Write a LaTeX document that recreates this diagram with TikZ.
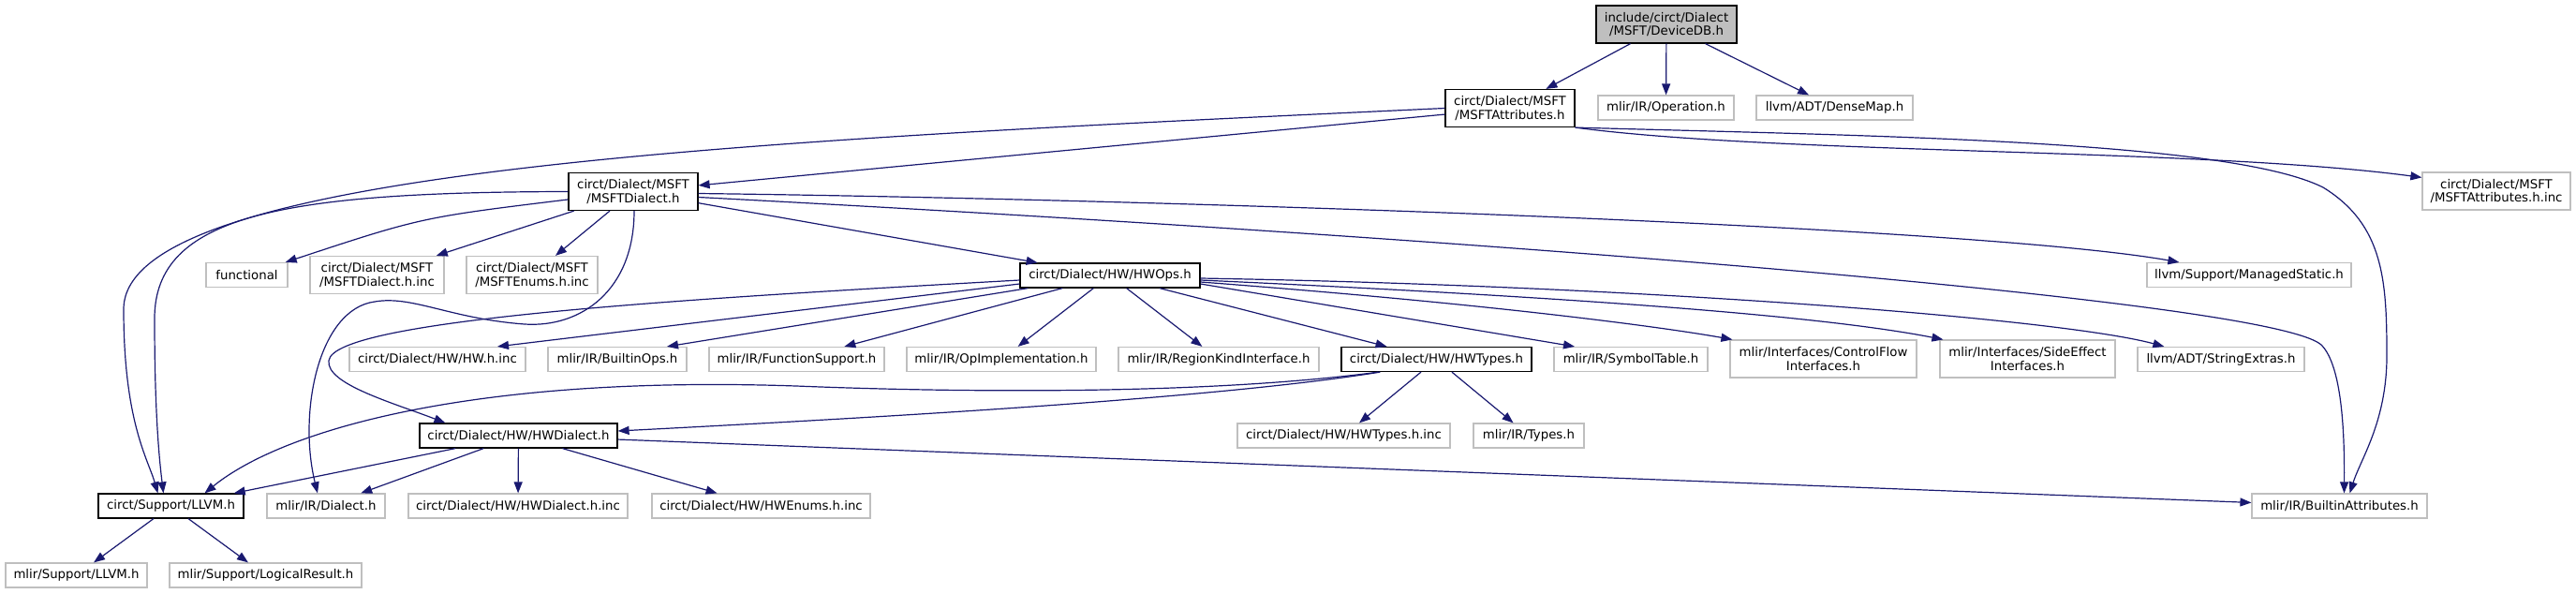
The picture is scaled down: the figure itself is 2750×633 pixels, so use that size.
\documentclass[tikz,border=0pt]{standalone}
\usepackage{fontspec}
\setmainfont{DejaVu Sans}
\usetikzlibrary{arrows.meta, calc}
\definecolor{azulmeia}{HTML}{191970}
\definecolor{cinza}{HTML}{BFBFBF}
\newcommand{\arq}[5]{%
  % #1 = estilo, #2 = nome, #3 = x, #4 = y, #5 = largura
  \node[#1, minimum width=#5] (#2) at (#3,#4)}

\begin{document}
\begin{tikzpicture}[x=1pt, y=-1pt, >={Triangle[length=12pt, width=9pt]},
    file/.style={draw, line width=1.2pt, minimum height=26, inner sep=0pt,
      align=center, font=\fontsize{13.3}{14.3}\selectfont},
    leaf/.style={file, draw=cinza},
    hub/.style={file, draw=black},
    root/.style={file, draw=black, fill=cinza},
    twoline/.style={minimum height=40},
    dep/.style={->, azulmeia, line width=1.2pt}]

    \useasboundingbox (0,0) rectangle (2750,633);

    % arquivos
    \arq{root, twoline}{devdb}{1779}{26}{150} {include/circt/Dialect\\/MSFT/DeviceDB.h};
    \arq{hub, twoline}{msftattr}{1612}{115.5}{138} {circt/Dialect/MSFT\\/MSFTAttributes.h};
    \arq{leaf}{operation}{1778.5}{115}{145} {mlir/IR/Operation.h};
    \arq{leaf}{densemap}{1958.5}{115}{167} {llvm/ADT/DenseMap.h};
    \arq{leaf, twoline}{attrinc}{2665}{204}{158} {circt/Dialect/MSFT\\/MSFTAttributes.h.inc};

    \arq{hub, twoline}{msftdialect}{676}{204.5}{138} {circt/Dialect/MSFT\\/MSFTDialect.h};
    \arq{leaf}{functional}{263.5}{293.5}{87} {functional};
    \arq{leaf, twoline}{dialinc}{402.5}{293.5}{143} {circt/Dialect/MSFT\\/MSFTDialect.h.inc};
    \arq{leaf, twoline}{enumsinc}{568}{293.5}{140} {circt/Dialect/MSFT\\/MSFTEnums.h.inc};
    \arq{leaf}{managed}{2401}{293.5}{218} {llvm/Support/ManagedStatic.h};
    \arq{hub}{hwops}{1185}{294}{192} {circt/Dialect/HW/HWOps.h};

    \arq{leaf}{hwinc}{467}{383.5}{188} {circt/Dialect/HW/HW.h.inc};
    \arq{leaf}{builtinops}{659}{383.5}{148} {mlir/IR/BuiltinOps.h};
    \arq{leaf}{funcsupport}{850.5}{383.5}{187} {mlir/IR/FunctionSupport.h};
    \arq{leaf}{opimpl}{1069}{383.5}{202} {mlir/IR/OpImplementation.h};
    \arq{leaf}{regionkind}{1301}{383.5}{214} {mlir/IR/RegionKindInterface.h};
    \arq{hub}{hwtypes}{1533.5}{383.5}{203} {circt/Dialect/HW/HWTypes.h};
    \arq{leaf}{symboltable}{1741}{383.5}{164} {mlir/IR/SymbolTable.h};
    \arq{leaf, twoline}{controlflow}{1946.5}{383}{199} {mlir/Interfaces/ControlFlow\\Interfaces.h};
    \arq{leaf, twoline}{sideeffect}{2164.5}{383}{187} {mlir/Interfaces/SideEffect\\Interfaces.h};
    \arq{leaf}{stringextras}{2371}{383.5}{178} {llvm/ADT/StringExtras.h};

    \arq{hub}{hwdialect}{553.5}{465}{211} {circt/Dialect/HW/HWDialect.h};
    \arq{leaf}{hwtypesinc}{1434.5}{465}{227} {circt/Dialect/HW/HWTypes.h.inc};
    \arq{leaf}{types}{1632}{465}{118} {mlir/IR/Types.h};

    \arq{hub}{llvm}{182.5}{540}{155} {circt/Support/LLVM.h};
    \arq{leaf}{dialect}{348}{540}{126} {mlir/IR/Dialect.h};
    \arq{leaf}{hwdialinc}{553}{540}{234} {circt/Dialect/HW/HWDialect.h.inc};
    \arq{leaf}{hwenums}{812.5}{540}{233} {circt/Dialect/HW/HWEnums.h.inc};
    \arq{leaf}{builtinattr}{2497.5}{540}{187} {mlir/IR/BuiltinAttributes.h};

    \arq{leaf}{mlirllvm}{81.5}{614}{151} {mlir/Support/LLVM.h};
    \arq{leaf}{logical}{283.5}{614}{205} {mlir/Support/LogicalResult.h};

    % DeviceDB.h
    \draw[dep] (devdb) -- (msftattr);
    \draw[dep] (devdb) -- (operation);
    \draw[dep] (devdb) -- (densemap);

    % MSFTAttributes.h
    \draw[dep] (msftattr) -- (msftdialect);
    \draw[dep] (msftattr.west) .. controls (800,150) and (132,180) .. (132,330)
      .. controls (132,450) and (158,490) .. ($(llvm.north)+(-14,0)$);
    \draw[dep] (msftattr.south east) .. controls (1900,165) and (2350,158)
      .. ($(attrinc.north west)+(0,6)$);
    \draw[dep] (msftattr.south east) .. controls (2000,145) and (2380,150) .. (2480,200)
      .. controls (2545,240) and (2548,300) .. (2548,380)
      .. controls (2548,450) and (2520,490) .. ($(builtinattr.north)+(11,0)$);

    % MSFTDialect.h
    \draw[dep] (msftdialect) .. controls (450,232) .. (functional);
    \draw[dep] (msftdialect) -- (dialinc);
    \draw[dep] (msftdialect) -- (enumsinc);
    \draw[dep] (msftdialect) -- (hwops);
    \draw[dep] (msftdialect.west) .. controls (300,205) and (165,230) .. (165,340)
      .. controls (165,440) and (170,490) .. ($(llvm.north)+(-8,0)$);
    \draw[dep] ($(msftdialect.south)+(1,0)$) .. controls (677,310) and (620,350) .. (560,346)
      .. controls (480,340) and (440,315) .. (400,322)
      .. controls (340,330) and (318,440) .. ($(dialect.north)+(-9,0)$);
    \draw[dep] ($(msftdialect.east)+(0,2)$) .. controls (1200,212) and (2100,240)
      .. ($(managed.north west)+(35,0)$);
    \draw[dep] ($(msftdialect.east)+(0,6)$) .. controls (1500,250) and (2420,318) .. (2478,368)
      .. controls (2500,390) and (2503,460) .. ($(builtinattr.north)+(5,0)$);

    % HWOps.h
    \draw[dep] ($(hwops.west)+(0,5)$) .. controls (750,318) and (356,340) .. (351,385)
      .. controls (348,410) and (420,430) .. ($(hwdialect.north west)+(28,0)$);
    \draw[dep] ($(hwops.west)+(0,9)$) -- ($(hwinc.north)+(64,0)$);
    \draw[dep] ($(hwops.south west)+(9,0)$) -- ($(builtinops.north)+(53,0)$);
    \draw[dep] (hwops) -- (funcsupport);
    \draw[dep] (hwops) -- (opimpl);
    \draw[dep] (hwops) -- (regionkind);
    \draw[dep] (hwops) -- (hwtypes);
    \draw[dep] ($(hwops.east)+(0,9)$) -- ($(symboltable.north)+(-60,0)$);
    \draw[dep] ($(hwops.east)+(0,7)$) .. controls (1600,325) and (1780,350)
      .. ($(controlflow.north west)+(3,0)$);
    \draw[dep] ($(hwops.east)+(0,5)$) .. controls (1700,318) and (1950,338)
      .. ($(sideeffect.north west)+(4,0)$);
    \draw[dep] ($(hwops.east)+(0,3)$) .. controls (1750,305) and (2200,340)
      .. ($(stringextras.north west)+(29,0)$);

    % HWTypes.h
    \draw[dep] (hwtypes) -- (hwtypesinc);
    \draw[dep] (hwtypes) -- (types);
    \draw[dep] ($(hwtypes.south west)+(42,0)$) .. controls (1300,425) and (950,445)
      .. ($(hwdialect.east)+(0,-5)$);
    \draw[dep] ($(hwtypes.south west)+(40,0)$) .. controls (1300,420) and (1050,420) .. (850,412)
      .. controls (500,400) and (300,460) .. ($(llvm.north)+(36,0)$);

    % HWDialect.h
    \draw[dep] (hwdialect) -- (llvm);
    \draw[dep] (hwdialect) -- (dialect);
    \draw[dep] (hwdialect) -- (hwdialinc);
    \draw[dep] (hwdialect) -- (hwenums);
    \draw[dep] (hwdialect) -- (builtinattr);

    % LLVM.h
    \draw[dep] (llvm) -- (mlirllvm);
    \draw[dep] (llvm) -- (logical);

\end{tikzpicture}
\end{document}
